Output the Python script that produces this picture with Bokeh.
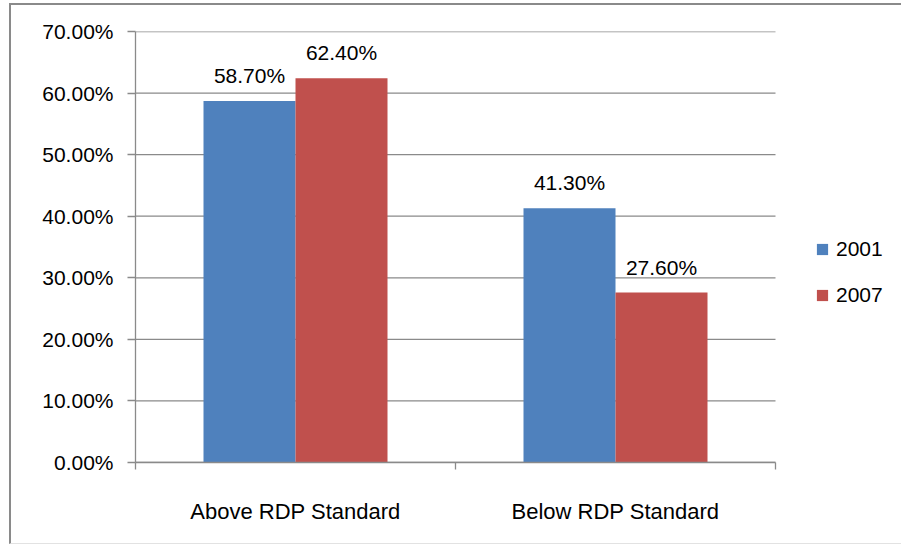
from bokeh.plotting import figure
from bokeh.models import (ColumnDataSource, Range1d, FixedTicker, NumeralTickFormatter,
                          LabelSet, Legend, LegendItem)
from bokeh.core.properties import value
from bokeh.transform import dodge
from bokeh.embed import file_html
from bokeh.resources import INLINE

# Share of households by RDP standard, per survey year
categories = ["Above RDP Standard", "Below RDP Standard"]
years = ["2001", "2007"]
share_2001 = [58.70, 41.30]
share_2007 = [62.40, 27.60]
y_ticks = [0.0, 0.1, 0.2, 0.3, 0.4, 0.5, 0.6, 0.7]

colors = {"2001": "#4F81BD", "2007": "#C0504D"}
FONT = "Liberation Sans"
GRID = "#8a8a8a"

n = len(categories)
centers = [i + 0.5 for i in range(n)]
src = ColumnDataSource(data=dict(
    x=centers,
    y2001=[v / 100 for v in share_2001],
    y2007=[v / 100 for v in share_2007],
    t2001=[f"{v:.2f}%" for v in share_2001],
    t2007=[f"{v:.2f}%" for v in share_2007],
))

# the frame runs on past the last category so the legend has room at the right
LEFT, RIGHT, W = 124, 12, 892
x_end = n * (W - LEFT - RIGHT) / 640

p = figure(width=W, height=541, output_backend="svg", toolbar_location=None,
           x_range=Range1d(0, x_end), y_range=Range1d(0, 0.7),
           min_border_left=LEFT, min_border_right=RIGHT, min_border_top=26,
           min_border_bottom=84)
p.styles = {"margin-left": "9px", "margin-top": "3px",
            "border-left": "2px solid #8a8a8a", "border-top": "2px solid #8a8a8a",
            "border-bottom": "1px solid #e2e2e2"}
p.outline_line_color = None
p.background_fill_color = "white"
p.border_fill_color = "white"

# horizontal gridlines across the category area only
p.xgrid.grid_line_color = None
p.ygrid.grid_line_color = None
p.segment(x0=[0] * len(y_ticks), x1=[n] * len(y_ticks), y0=y_ticks, y1=y_ticks,
          line_color=GRID, line_width=1.3)

bw = 0.2875
off = bw / 2
r1 = p.vbar(x=dodge("x", -off, range=p.x_range), top="y2001", width=bw, source=src,
            fill_color=colors["2001"], line_color=None)
r2 = p.vbar(x=dodge("x", off, range=p.x_range), top="y2007", width=bw, source=src,
            fill_color=colors["2007"], line_color=None)

for field, text, d in (("y2001", "t2001", -off), ("y2007", "t2007", off)):
    p.add_layout(LabelSet(x=dodge("x", d, range=p.x_range), y=field, text=text, source=src,
                          y_offset=18, text_align="center", text_baseline="alphabetic",
                          text_font=value(FONT), text_font_size=value("21px"),
                          text_color="black"))

# y axis
p.yaxis.ticker = FixedTicker(ticks=y_ticks)
p.yaxis.formatter = NumeralTickFormatter(format="0.00%")
p.yaxis.axis_line_color = GRID
p.yaxis.axis_line_width = 1.3
p.yaxis.major_tick_line_color = GRID
p.yaxis.major_tick_line_width = 1.3
p.yaxis.major_tick_out = 8
p.yaxis.major_tick_in = 0
p.yaxis.minor_tick_line_color = None
p.yaxis.major_label_standoff = 14
p.yaxis.major_label_text_font = FONT
p.yaxis.major_label_text_font_size = "21px"
p.yaxis.major_label_text_color = "black"

# x axis: labels at category centres, tick marks on the category boundaries
p.xaxis.bounds = (0, n)
p.xaxis.ticker = FixedTicker(ticks=centers, minor_ticks=list(range(n + 1)))
p.xaxis.major_label_overrides = {c: name for c, name in zip(centers, categories)}
p.xaxis.axis_line_color = GRID
p.xaxis.axis_line_width = 1.3
p.xaxis.major_tick_line_color = None
p.xaxis.major_tick_out = 0
p.xaxis.major_tick_in = 0
p.xaxis.minor_tick_line_color = GRID
p.xaxis.minor_tick_line_width = 1.3
p.xaxis.minor_tick_out = 7
p.xaxis.minor_tick_in = 0
p.xaxis.major_label_standoff = 29
p.xaxis.major_label_text_font = FONT
p.xaxis.major_label_text_font_size = "22px"
p.xaxis.major_label_text_color = "black"

legend = Legend(items=[LegendItem(label=years[0], renderers=[r1]),
                       LegendItem(label=years[1], renderers=[r2])],
                location=(680, 155), orientation="vertical",
                glyph_width=14, glyph_height=14, label_height=14, label_width=48,
                spacing=22, padding=0, margin=0, label_standoff=7,
                border_line_color=None, background_fill_alpha=0,
                label_text_font=FONT, label_text_font_size="21px",
                label_text_color="black")
p.add_layout(legend, "center")

open("out.html", "w").write(file_html(p, INLINE))
